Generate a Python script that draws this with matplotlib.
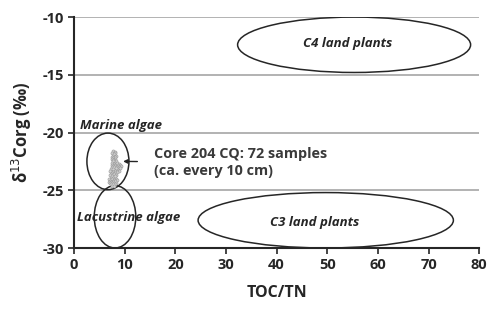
import matplotlib
matplotlib.use("Agg")
import matplotlib.pyplot as plt
from matplotlib.patches import Ellipse

plt.rcParams['font.family'] = ['Open Sans', 'DejaVu Sans']
plt.rcParams['axes.unicode_minus'] = False

# Core 204 CQ samples (TOC/TN, d13Corg)
toc = [7.8, 8.0, 7.6, 8.1, 7.9, 7.7, 8.2, 7.5, 8.0, 7.8, 7.6, 8.1, 7.9, 7.7, 8.3, 7.8, 7.5, 8.0, 8.2, 7.9, 7.6, 8.1, 7.8, 8.0,
       8.5, 8.8, 9.0, 8.7, 9.2, 8.9, 8.6, 9.1, 8.4, 8.8,
       7.6, 7.9, 8.2, 7.4, 7.8, 8.1, 7.2, 7.7, 8.4, 7.5, 8.0, 7.3, 7.9, 8.3, 7.1, 7.6, 8.0, 7.4, 7.8, 8.2,
       7.0, 7.5, 7.9, 8.5, 7.2, 7.7, 8.1, 6.9, 7.4, 7.8, 8.3, 7.1, 7.6, 8.0, 7.3, 7.7, 7.5, 7.9]
d13c = [-21.6, -21.7, -21.8, -21.8, -21.9, -22.0, -22.0, -22.1, -22.1, -22.2, -22.3, -22.3, -22.4, -22.4, -22.5, -22.5,
        -22.6, -22.6, -22.7, -22.7, -22.8, -22.8, -22.9, -22.9,
        -22.6, -22.7, -22.8, -22.9, -22.9, -23.0, -23.1, -23.1, -23.2, -23.3,
        -23.0, -23.0, -23.1, -23.2, -23.2, -23.3, -23.3, -23.4, -23.4, -23.5, -23.5, -23.6, -23.6, -23.7, -23.7,
        -23.8, -23.8, -23.9, -23.9, -24.0, -24.0, -24.0, -24.1, -24.1, -24.2, -24.2, -24.2, -24.3, -24.3, -24.3,
        -24.4, -24.4, -24.4, -24.5, -24.5, -24.5, -24.6, -24.6]

# Source fields: name, centre x, centre y, width, height
field_names = ["C4 land plants", "C3 land plants", "Marine algae", "Lacustrine algae"]
field_cx = [55.3, 49.7, 6.7, 8.1]
field_cy = [-12.4, -27.6, -22.5, -27.3]
field_w = [46.0, 50.4, 8.3, 8.2]
field_h = [4.8, 4.8, 4.9, 5.4]

xticks = [0, 10, 20, 30, 40, 50, 60, 70, 80]
yticks = [-30, -25, -20, -15, -10]

fig = plt.figure(figsize=(4.9, 3.1), dpi=100)
ax = fig.add_axes([0.151, 0.2, 0.827, 0.745])

for yt in yticks[1:]:
    ax.axhline(yt, color='#a6a6a6', lw=1.2, zorder=0)

for cx, cy, w, h in zip(field_cx, field_cy, field_w, field_h):
    ax.add_patch(Ellipse((cx, cy), w, h, fill=False, edgecolor='#262626', lw=1.1, zorder=2))

ax.scatter(toc, d13c, s=5, c='#cfcfcf', edgecolors='#9a9a9a', linewidths=0.4, zorder=3)

ax.text(54.1, -12.25, field_names[0], ha='center', va='center', fontsize=9.5,
        fontweight='bold', fontstyle='italic', color='#262626')
ax.text(47.6, -27.8, field_names[1], ha='center', va='center', fontsize=9.5,
        fontweight='bold', fontstyle='italic', color='#262626')
ax.text(1.2, -19.4, field_names[2], ha='left', va='center', fontsize=9.5,
        fontweight='bold', fontstyle='italic', color='#262626')
ax.text(0.6, -27.4, field_names[3], ha='left', va='center', fontsize=9.5,
        fontweight='bold', fontstyle='italic', color='#262626')

ax.annotate("Core 204 CQ: 72 samples\n(ca. every 10 cm)", xy=(9.7, -22.5), xytext=(15.8, -22.6),
            ha='left', va='center', fontsize=10.4, fontweight='bold', color='#3a3a3a', linespacing=1.2,
            arrowprops=dict(arrowstyle='-|>', color='#262626', lw=1.0, mutation_scale=6,
                            shrinkA=10, shrinkB=0))

ax.set_xlim(0, 80)
ax.set_ylim(-30, -10)
ax.set_xticks(xticks)
ax.set_yticks(yticks)
ax.tick_params(direction='out', length=4, width=1.2, colors='#262626', labelsize=10.5)
for lab in ax.get_xticklabels() + ax.get_yticklabels():
    lab.set_fontweight('bold')
ax.spines['top'].set_visible(False)
ax.spines['right'].set_visible(False)
for s in ['left', 'bottom']:
    ax.spines[s].set_linewidth(1.5)
    ax.spines[s].set_color('#262626')

ax.set_xlabel("TOC/TN", fontsize=11.5, fontweight='bold', color='#262626', labelpad=9)
ax.set_ylabel("δ$^{13}$Corg (‰)", fontsize=12, fontweight='bold', color='#262626', labelpad=6)

fig.savefig("out.png", dpi=100)
